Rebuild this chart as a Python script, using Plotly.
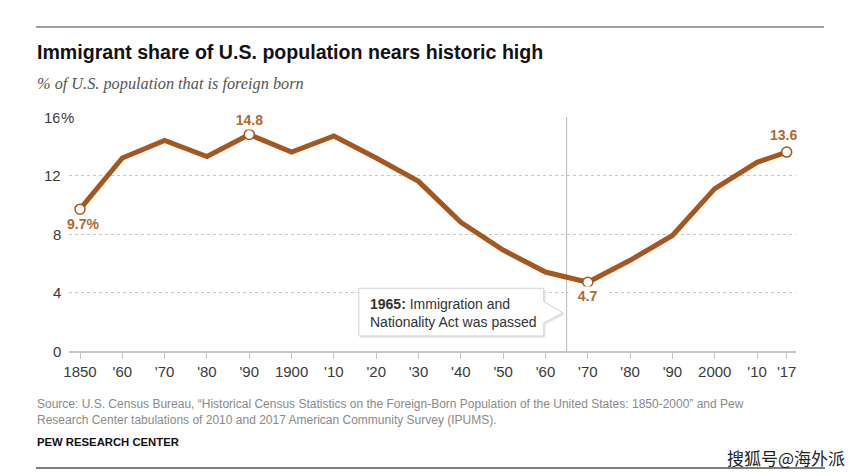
import plotly.graph_objects as go

# ---- data ----
years = [1850, 1860, 1870, 1880, 1890, 1900, 1910, 1920, 1930, 1940,
         1950, 1960, 1970, 1980, 1990, 2000, 2010, 2017]
share = [9.7, 13.2, 14.4, 13.3, 14.8, 13.6, 14.7, 13.2, 11.6, 8.8,
         6.9, 5.4, 4.7, 6.2, 7.9, 11.1, 12.9, 13.6]
tick_text = ["1850", "'60", "'70", "'80", "'90", "1900", "'10", "'20", "'30", "'40",
             "'50", "'60", "'70", "'80", "'90", "2000", "'10", "'17"]
y_ticks = [0, 4, 8, 12, 16]
hl_years = [1850, 1890, 1970, 2017]
hl_labels = ["9.7%", "\u00a0\u00a014.8\u00a0\u00a0", "\u00a0\u00a04.7\u00a0\u00a0", "13.6"]
hl_shift = [(3, -15), (0, 15), (0, -14), (-3, 17)]
event_year = 1965

LINE = "#a4571f"
LABEL = "#ad6a32"
FONT = "Liberation Sans"

fig = go.Figure()
fig.add_trace(go.Scatter(x=years, y=share, mode="lines",
                         line=dict(color=LINE, width=5), hoverinfo="skip"))
hl_vals = [share[years.index(y)] for y in hl_years]
fig.add_trace(go.Scatter(x=hl_years, y=hl_vals, mode="markers",
                         marker=dict(size=10, color="white",
                                     line=dict(color=LINE, width=1.5)),
                         hoverinfo="skip"))

ann = []
# point labels
for yr, v, t, (dx, dy) in zip(hl_years, hl_vals, hl_labels, hl_shift):
    ann.append(dict(x=yr, y=v, text=t, showarrow=False, xshift=dx, yshift=dy,
                    font=dict(family=FONT, size=14, color=LABEL, weight="bold"),
                    bgcolor="white" if yr in (1890, 1970) else "rgba(0,0,0,0)",
                    borderpad=1))
# y tick labels
ytx = (63 - 69) / 727
for v in y_ticks:
    ann.append(dict(x=ytx, xref="paper", y=v, yref="y", text=str(v), showarrow=False,
                    xanchor="right", font=dict(family=FONT, size=15, color="#3a3a3a")))
ann.append(dict(x=ytx, xref="paper", y=16, yref="y", text="%\u00a0\u00a0", showarrow=False,
                xanchor="left", bgcolor="white", borderpad=1, xshift=-4,
                font=dict(family=FONT, size=15, color="#3a3a3a")))

# callout text
ann.append(dict(x=1918.0, y=2.6, text="<b>1965:</b> Immigration and<br>Nationality Act was passed",
                showarrow=False, xanchor="left", yanchor="middle", align="left",
                font=dict(family=FONT, size=14, color="#333")))


# titles
def px(xp):
    return (xp - 69) / 727


def py(yp):
    return (351 - yp) / 234


ann.append(dict(x=px(35), y=py(52), xref="paper", yref="paper", xanchor="left", yanchor="middle",
                text="<b>Immigrant share of U.S. population nears historic high</b>",
                showarrow=False, font=dict(family=FONT, size=19.6, color="#111")))
ann.append(dict(x=px(35), y=py(83), xref="paper", yref="paper", xanchor="left", yanchor="middle",
                text="<i>% of U.S. population that is foreign born</i>",
                showarrow=False, font=dict(family="Liberation Serif", size=16.3, color="#555")))
ann.append(dict(x=px(35), y=py(395), xref="paper", yref="paper", xanchor="left", yanchor="top",
                align="left",
                text="Source: U.S. Census Bureau, \u201cHistorical Census Statistics on the Foreign-Born Population of the United States: 1850-2000\u201d and Pew<br>Research Center tabulations of 2010 and 2017 American Community Survey (IPUMS).",
                showarrow=False, font=dict(family=FONT, size=12, color="#8a8a8a")))
ann.append(dict(x=px(35), y=py(442), xref="paper", yref="paper", xanchor="left", yanchor="middle",
                text="<b>PEW RESEARCH CENTER</b>",
                showarrow=False, font=dict(family=FONT, size=11.3, color="#111")))
ann.append(dict(x=px(786), y=py(457), xref="paper", yref="paper", xanchor="center", yanchor="middle",
                text="搜狐号@海外派",
                showarrow=False, font=dict(family="Noto Sans CJK SC", size=17, color="#222")))

shapes = [
    dict(type="line", xref="paper", yref="paper", x0=px(36), x1=px(824), y0=py(27), y1=py(27),
         line=dict(color="#9e9e9e", width=2)),
    dict(type="line", xref="paper", yref="paper", x0=px(36), x1=px(825), y0=py(468), y1=py(468),
         line=dict(color="#555", width=1.5)),
    dict(type="line", xref="x", yref="paper", x0=event_year, x1=event_year, y0=0, y1=1,
         line=dict(color="#b8b8c6", width=1), layer="below"),
]
L, R, T, B = 1915.9, event_year - 5.4, 4.29, 1.03
tip = event_year - 0.9


def callout(dx=0.0, dy=0.0):
    return (f"M {L+dx},{T+dy} L {R+dx},{T+dy} L {R+dx},{3.37+dy} L {tip+dx},{2.62+dy} "
            f"L {R+dx},{1.91+dy} L {R+dx},{B+dy} L {L+dx},{B+dy} Z")


shapes.append(dict(type="path", path=callout(0.4, -0.12), xref="x", yref="y",
                   fillcolor="#e6e6e6", line=dict(width=0)))
shapes.append(dict(type="path", path=callout(), xref="x", yref="y",
                   fillcolor="white", line=dict(color="#d2d2d2", width=1)))

fig.update_layout(
    width=865, height=476,
    margin=dict(l=69, r=69, t=117, b=125),
    paper_bgcolor="white", plot_bgcolor="white",
    showlegend=False,
    annotations=ann, shapes=shapes,
    xaxis=dict(range=[1847.4, 2019.2], tickvals=years, ticktext=tick_text,
               showgrid=False, zeroline=False, showline=True, linecolor="#c4c4c4", linewidth=1.5,
               ticks="outside", ticklen=6, tickcolor="#c4c4c4", tickwidth=1,
               tickfont=dict(family=FONT, size=15, color="#3a3a3a")),
    yaxis=dict(range=[0, 16], tickvals=y_ticks, showticklabels=False,
               showgrid=True, gridcolor="#c6c6c6", griddash="dot", gridwidth=1,
               zeroline=False),
)

fig.write_html("out.html", config={"displayModeBar": False},
               post_script="document.body.style.margin='0';document.body.style.overflow='hidden';")
